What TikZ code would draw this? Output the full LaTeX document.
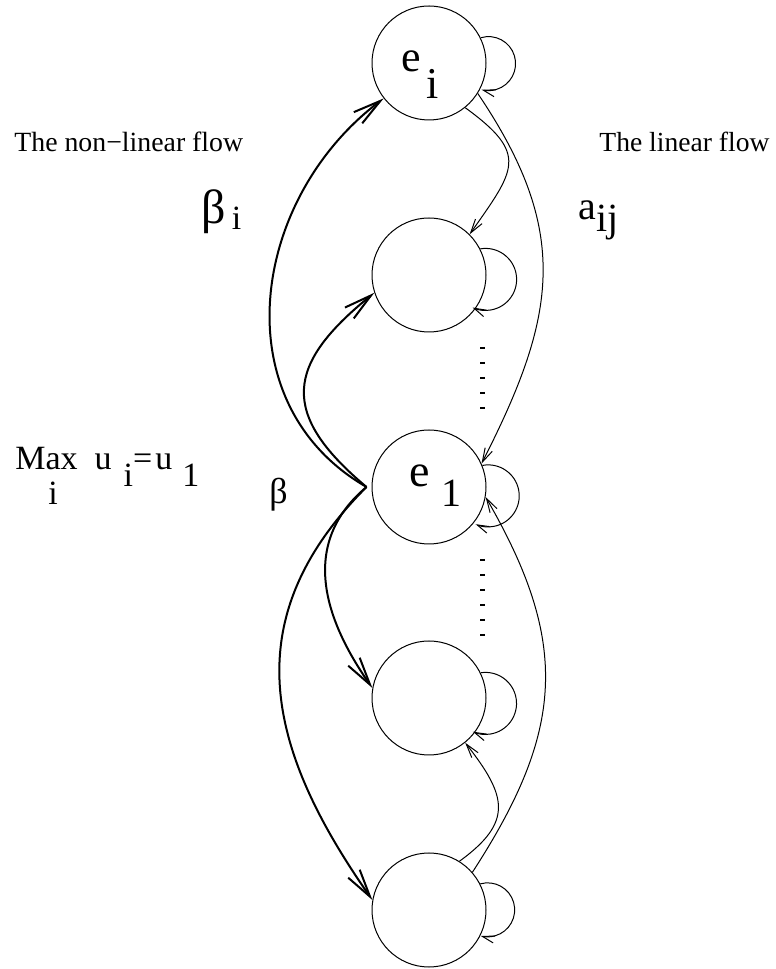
\documentclass[tikz,border=0pt]{standalone}
\usepackage{fontspec}
\setmainfont{Liberation Serif}
\usetikzlibrary{arrows.meta}

\begin{document}
\begin{tikzpicture}[x=0.5pt, y=0.5pt,
    state/.style={draw, circle, line width=0.5pt, minimum size=57pt, inner sep=0pt},
    linflow/.style={line width=0.5pt, -{Straight Barb[length=7pt, width=4pt]}},
    nonlin/.style={line width=1pt, -{Straight Barb[length=14pt, width=7pt]}},
    selfloop/.style={line width=0.5pt, -{Straight Barb[length=6pt, width=3.5pt]}},
    ticks/.style={line width=2.5pt, dash pattern=on 1pt off 6.5pt},
    lbl/.style={anchor=base west, inner sep=0pt}]
    \useasboundingbox (0,0) rectangle (776,969);

    % states
    \node[state] (n1) at (429,906) {};
    \node[state] (n2) at (429,694) {};
    \node[state] (n3) at (429,482) {};
    \node[state] (n4) at (429,271) {};
    \node[state] (n5) at (429,59) {};

    \node[lbl, font=\fontsize{22}{22}\selectfont] (ei) at ([shift={(-28,-9)}]n1.center) {e\hspace{3pt}\raisebox{-13.5pt}{i}};
    \node[lbl, font=\fontsize{23}{23}\selectfont] (e1) at ([shift={(-20,0)}]n3.center) {e\hspace{6pt}\raisebox{-10pt}{\fontsize{20}{20}\selectfont 1}};

    % texts
    \node[lbl, font=\fontsize{13.9}{14}\selectfont] (nonlinlbl) at (14,817) {The non−linear flow};
    \node[lbl, font=\fontsize{13.8}{14}\selectfont] (linlbl) at (599,817) {The linear flow};
    \node[lbl, font=\fontsize{24}{24}\selectfont] (betai) at (201,745) {β\hspace{3pt}\raisebox{-3pt}{\fontsize{17}{17}\selectfont i}};
    \node[lbl, font=\fontsize{20}{20}\selectfont] (aij) at (578,749) {a\raisebox{-6pt}{ij}};
    \node[lbl, font=\fontsize{17}{17}\selectfont] (maxlbl) at (15,499) {Max\llap{\raisebox{-17.5pt}{i}\hspace{10pt}}\hspace{8.5pt}u\hspace{6pt}\raisebox{-8.5pt}{i}=\hspace{1.5pt}u\hspace{5pt}\raisebox{-8.5pt}{1}};
    \node[lbl, font=\fontsize{18}{18}\selectfont] (beta) at (269,465) {β};

    % non-linear flow
    \coordinate (cusp) at ([xshift=-2.5pt]n3.west);
    \draw[nonlin] (cusp) to[out=150, in=217, looseness=1.1] (n1.218);
    \draw[nonlin] (cusp) to[out=140, in=219, looseness=1.5] (n2.198);
    \draw[nonlin] (cusp) to[out=220, in=125, looseness=1.1] (n4.170);
    \draw[nonlin] (cusp) to[out=225, in=125, looseness=1.15] (n5.170);

    % linear flow
    \draw[linflow] (n1.-32) to[out=-56, in=63, looseness=1.15] (n3.24);
    \draw[linflow] (n1.-51) to[out=-36, in=55, looseness=1.6] (n2.45);
    \draw[linflow] (n5.58) to[out=36, in=-52, looseness=1.45] (n4.-51);
    \draw[linflow] (n5.41) to[out=57, in=-60, looseness=1.15] (n3.-10);

    % self loops
    \draw[selfloop] (n1.26) arc[start angle=107, end angle=-105, radius=27];
    \draw[selfloop] (n2.27) arc[start angle=100, end angle=-115, radius=31];
    \draw[selfloop] (n3.22) arc[start angle=101, end angle=-114, radius=31];
    \draw[selfloop] (n4.26) arc[start angle=99, end angle=-114, radius=31];
    \draw[selfloop] (n5.27) arc[start angle=106, end angle=-105, radius=27];

    % dots
    \draw[ticks] (482,622) -- (482,559);
    \draw[ticks] (482,410) -- (482,333);
\end{tikzpicture}
\end{document}
